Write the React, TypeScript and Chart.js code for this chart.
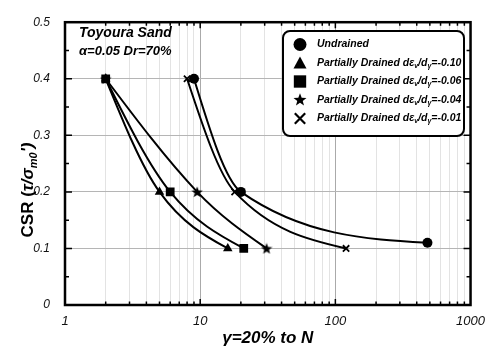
import React, { useEffect, useRef } from "react";
import { Chart, registerables } from "chart.js";

Chart.register(...registerables);

// ---- data ----
const undrainedN = [9, 20, 480];
const undrainedCSR = [0.4, 0.2, 0.11];
const pd010N = [2, 5, 16];
const pd010CSR = [0.4, 0.2, 0.1];
const pd006N = [2, 6, 21];
const pd006CSR = [0.4, 0.2, 0.1];
const pd004N = [2, 9.5, 31];
const pd004CSR = [0.4, 0.2, 0.1];
const pd001N = [8, 18, 120];
const pd001CSR = [0.4, 0.2, 0.1];

const seriesNames = ["Undrained", "Partially Drained", "Partially Drained", "Partially Drained", "Partially Drained"];
const seriesRatios = ["", "-0.10", "-0.06", "-0.04", "-0.01"];
const xTickLabels = [1, 10, 100, 1000];
const yTickValues = [0, 0.1, 0.2, 0.3, 0.4, 0.5];
const annotationLines = ["Toyoura Sand", "α=0.05 Dr=70%"];
const xTitle = "γ=20% to N";

const FONT = "'Liberation Sans', Arial, sans-serif";

function makeStarCanvas(size: number) {
  const c = document.createElement("canvas");
  c.width = size;
  c.height = size;
  const ctx = c.getContext("2d")!;
  drawStar(ctx, size / 2, size / 2 + 0.5, size / 2);
  return c;
}

function drawStar(ctx: CanvasRenderingContext2D, cx: number, cy: number, r: number) {
  const inner = r * 0.42;
  ctx.beginPath();
  for (let i = 0; i < 10; i++) {
    const rr = i % 2 === 0 ? r : inner;
    const a = -Math.PI / 2 + (i * Math.PI) / 5;
    const x = cx + rr * Math.cos(a);
    const y = cy + rr * Math.sin(a);
    if (i === 0) ctx.moveTo(x, y);
    else ctx.lineTo(x, y);
  }
  ctx.closePath();
  ctx.fillStyle = "#000";
  ctx.fill();
}

function drawMarker(ctx: CanvasRenderingContext2D, style: string, x: number, y: number, r: number) {
  ctx.save();
  ctx.fillStyle = "#000";
  ctx.strokeStyle = "#000";
  if (style === "circle") {
    ctx.beginPath();
    ctx.arc(x, y, r, 0, Math.PI * 2);
    ctx.fill();
  } else if (style === "triangle") {
    ctx.beginPath();
    ctx.moveTo(x, y - r);
    ctx.lineTo(x + r * 1.0, y + r * 0.85);
    ctx.lineTo(x - r * 1.0, y + r * 0.85);
    ctx.closePath();
    ctx.fill();
  } else if (style === "rect") {
    ctx.fillRect(x - r * 0.95, y - r * 0.95, r * 1.9, r * 1.9);
  } else if (style === "star") {
    drawStar(ctx, x, y, r * 1.05);
  } else if (style === "crossRot") {
    ctx.lineWidth = 2.2;
    const d = r * 0.8;
    ctx.beginPath();
    ctx.moveTo(x - d, y - d);
    ctx.lineTo(x + d, y + d);
    ctx.moveTo(x + d, y - d);
    ctx.lineTo(x - d, y + d);
    ctx.stroke();
  }
  ctx.restore();
}

function xy(ns: number[], vs: number[]) {
  return ns.map((n, i) => ({ x: n, y: vs[i] }));
}

// Smooth curve: interior tangents along neighbour chord, end tangents extrapolated
const smoothPlugin = {
  id: "smoothCurve",
  beforeDatasetDraw(chart: any, args: any) {
    const meta = chart.getDatasetMeta(args.index);
    const line = meta.dataset;
    const pts = meta.data;
    if (!line || !pts || pts.length < 3) return;
    if (typeof line.updateControlPoints === "function") line.updateControlPoints(chart.chartArea, "x");
    const n = pts.length;
    const X = pts.map((p: any) => p.x);
    const Y = pts.map((p: any) => p.y);
    const h: number[] = [];
    const s: number[] = [];
    for (let i = 0; i < n - 1; i++) {
      h.push(X[i + 1] - X[i]);
      s.push((Y[i + 1] - Y[i]) / (X[i + 1] - X[i]));
    }
    const d: number[] = new Array(n).fill(0);
    for (let i = 1; i < n - 1; i++) d[i] = (Y[i + 1] - Y[i - 1]) / (X[i + 1] - X[i - 1]);
    d[0] = s[0] + 0.5 * (s[0] - d[1]);
    d[n - 1] = s[n - 2] + 0.5 * (s[n - 2] - d[n - 2]);
    if (Math.sign(d[n - 1]) !== Math.sign(s[n - 2])) d[n - 1] = 0;
    if (Math.sign(d[0]) !== Math.sign(s[0])) d[0] = 0;
    for (let i = 0; i < n; i++) {
      const p = pts[i];
      const hp = i > 0 ? h[i - 1] : 0;
      const hn = i < n - 1 ? h[i] : 0;
      p.cp1x = X[i] - hp / 3;
      p.cp1y = Y[i] - (d[i] * hp) / 3;
      p.cp2x = X[i] + hn / 3;
      p.cp2y = Y[i] + (d[i] * hn) / 3;
    }
    line._path = undefined;
    line._pointsUpdated = true;
  },
};

export default function App() {
  const ref = useRef<HTMLCanvasElement | null>(null);

  useEffect(() => {
    if (!ref.current) return;
    const star = makeStarCanvas(12);
    const styles: any[] = ["circle", "triangle", "rect", "star", "crossRot"];
    const legendStyles = ["circle", "triangle", "rect", "star", "crossRot"];
    const dataSets = [
      xy(undrainedN, undrainedCSR),
      xy(pd010N, pd010CSR),
      xy(pd006N, pd006CSR),
      xy(pd004N, pd004CSR),
      xy(pd001N, pd001CSR),
    ];
    const radii = [5, 5.5, 6.2, 5, 4.5];

    const datasets = dataSets.map((d, i) => ({
      label: seriesNames[i] + (seriesRatios[i] ? " " + seriesRatios[i] : ""),
      data: d,
      borderColor: "#000",
      borderWidth: 2,
      backgroundColor: "#000",
      pointBackgroundColor: "#000",
      pointBorderColor: "#000",
      pointBorderWidth: styles[i] === "crossRot" ? 1.8 : 0,
      pointStyle: styles[i] === "star" ? star : styles[i],
      pointRadius: radii[i],
      tension: 0.3,
      capBezierPoints: false,
      fill: false,
      order: 5 - i,
    }));

    const decorPlugin = {
      id: "decor",
      afterDraw(chart: any) {
        const ctx: CanvasRenderingContext2D = chart.ctx;
        const a = chart.chartArea;
        const xs = chart.scales.x;
        const ys = chart.scales.y;
        ctx.save();
        // inward ticks
        ctx.strokeStyle = "#000";
        ctx.lineWidth = 1.5;
        ctx.beginPath();
        for (let p = 0; p < 3; p++) {
          for (let m = 1; m <= 9; m++) {
            const v = m * Math.pow(10, p);
            if (v <= 1 || v >= 1000) continue;
            const px = xs.getPixelForValue(v);
            const len = m === 1 ? 6 : 3.5;
            ctx.moveTo(px, a.bottom);
            ctx.lineTo(px, a.bottom - len);
            ctx.moveTo(px, a.top);
            ctx.lineTo(px, a.top + len);
          }
        }
        for (let k = 1; k < 10; k++) {
          const v = k * 0.05;
          const py = ys.getPixelForValue(v);
          const len = k % 2 === 0 ? 7 : 4;
          ctx.moveTo(a.left, py);
          ctx.lineTo(a.left + len, py);
          ctx.moveTo(a.right, py);
          ctx.lineTo(a.right - len, py);
        }
        ctx.stroke();
        // frame
        ctx.lineWidth = 2.5;
        ctx.strokeRect(a.left, a.top, a.right - a.left, a.bottom - a.top);

        // annotation
        ctx.fillStyle = "#000";
        ctx.textBaseline = "alphabetic";
        ctx.textAlign = "left";
        ctx.font = `bold italic 14px ${FONT}`;
        ctx.fillText(annotationLines[0], 79, 37);
        ctx.font = `bold italic 13px ${FONT}`;
        ctx.fillText(annotationLines[1], 79, 55);

        // legend box
        const bx = 283, by = 31, bw = 181, bh = 105, br = 7;
        ctx.lineWidth = 2;
        ctx.fillStyle = "#fff";
        ctx.beginPath();
        ctx.moveTo(bx + br, by);
        ctx.arcTo(bx + bw, by, bx + bw, by + bh, br);
        ctx.arcTo(bx + bw, by + bh, bx, by + bh, br);
        ctx.arcTo(bx, by + bh, bx, by, br);
        ctx.arcTo(bx, by, bx + bw, by, br);
        ctx.closePath();
        ctx.fill();
        ctx.stroke();
        for (let i = 0; i < chart.data.datasets.length; i++) {
          const ry = 44.5 + i * 18.5;
          drawMarker(ctx, legendStyles[i], 300, ry, 6.5);
          ctx.fillStyle = "#000";
          ctx.textBaseline = "middle";
          const big = `bold italic 10.5px ${FONT}`;
          const small = `bold italic 7px ${FONT}`;
          let tx = 317;
          const seg = (t: string, f: string, dy: number) => {
            ctx.font = f;
            ctx.fillText(t, tx, ry + dy);
            tx += ctx.measureText(t).width;
          };
          if (!seriesRatios[i]) {
            seg(seriesNames[i], big, 0);
          } else {
            seg(seriesNames[i] + " dε", big, 0);
            seg("v", small, 3);
            seg("/d", big, 0);
            seg("γ", small, 3);
            seg("=" + seriesRatios[i], big, 0);
          }
        }

        // x title
        ctx.fillStyle = "#000";
        ctx.textBaseline = "alphabetic";
        ctx.textAlign = "center";
        ctx.font = `bold italic 17px ${FONT}`;
        ctx.fillText(xTitle, (a.left + a.right) / 2, 343);

        // y title (rotated)
        ctx.save();
        ctx.translate(33, 190);
        ctx.rotate(-Math.PI / 2);
        ctx.textAlign = "left";
        const parts: [string, string, number][] = [
          ["CSR (", `bold 17px ${FONT}`, 0],
          ["τ/σ", `bold italic 17px ${FONT}`, 0],
          ["m0", `bold italic 11px ${FONT}`, 4],
          ["')", `bold italic 17px ${FONT}`, 0],
        ];
        let total = 0;
        for (const p of parts) {
          ctx.font = p[1];
          total += ctx.measureText(p[0]).width;
        }
        let cx = -total / 2;
        for (const p of parts) {
          ctx.font = p[1];
          ctx.fillText(p[0], cx, p[2]);
          cx += ctx.measureText(p[0]).width;
        }
        ctx.restore();
        ctx.restore();
      },
    };

    const chart = new Chart(ref.current, {
      type: "line",
      data: { datasets: datasets as any },
      options: {
        animation: false,
        responsive: false,
        maintainAspectRatio: false,
        layout: { padding: { top: 15, right: 15, left: 0, bottom: 0 } },
        plugins: {
          legend: { display: false },
          tooltip: { enabled: false },
        },
        scales: {
          x: {
            type: "logarithmic",
            min: 1,
            max: 1000,
            afterBuildTicks: (scale: any) => {
              const t: any[] = [];
              for (let p = 0; p < 3; p++) {
                for (let m = 1; m <= 9; m++) t.push({ value: m * Math.pow(10, p) });
              }
              t.push({ value: 1000 });
              scale.ticks = t;
            },
            afterFit: (scale: any) => {
              scale.height = 42;
            },
            ticks: {
              autoSkip: false,
              maxRotation: 0,
              padding: 9,
              color: "#111",
              font: { family: FONT, size: 13, style: "italic" },
              callback: (v: any) => (xTickLabels.includes(Number(v)) ? String(v) : ""),
            },
            grid: {
              drawTicks: false,
              color: (c: any) => {
                const v = c.tick ? c.tick.value : 0;
                return xTickLabels.includes(v) ? "#aaaaaa" : "#e3e3e3";
              },
              lineWidth: 1,
            },
            border: { display: false },
          },
          y: {
            type: "linear",
            min: 0,
            max: 0.5,
            afterBuildTicks: (scale: any) => {
              scale.ticks = yTickValues.map((v) => ({ value: v }));
            },
            afterFit: (scale: any) => {
              scale.width = 65;
            },
            ticks: {
              padding: 15,
              color: "#111",
              font: { family: FONT, size: 12, style: "italic" },
              callback: (v: any) => String(Math.round(Number(v) * 10) / 10),
            },
            grid: { drawTicks: false, color: "#b5b5b5", lineWidth: 1 },
            border: { display: false },
          },
        },
      },
      plugins: [smoothPlugin, decorPlugin],
    });
    return () => chart.destroy();
  }, []);

  return (
    <div style={{ position: "fixed", left: 0, top: 0, width: 494, height: 347, background: "#fff" }}>
      <canvas ref={ref} width={494} height={347} style={{ width: 494, height: 347, display: "block" }} />
    </div>
  );
}
